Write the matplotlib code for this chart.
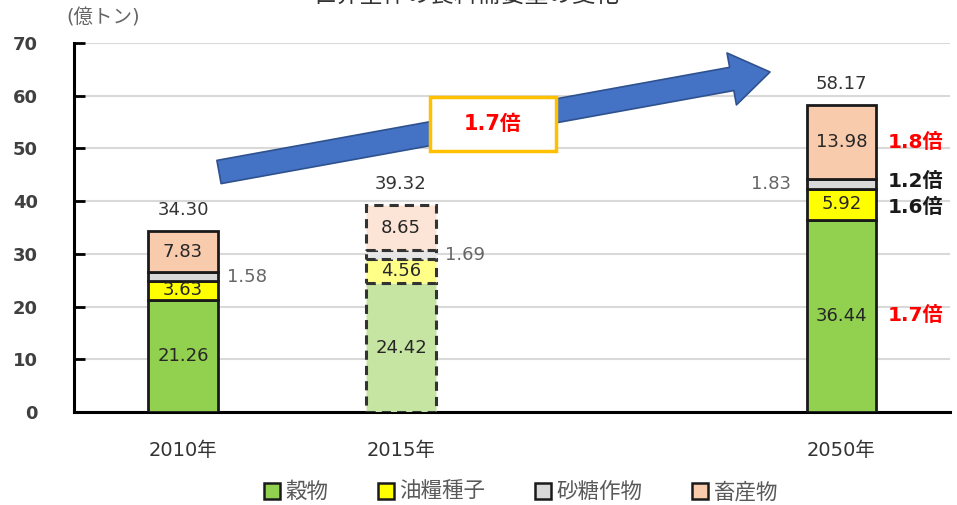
import matplotlib.pyplot as plt
import numpy as np
from matplotlib.patches import Patch, Rectangle, FancyArrowPatch

plt.rcParams['font.family'] = ['DejaVu Sans', 'Noto Sans CJK JP']

years = ['2010年', '2015年', '2050年']
grain = [21.26, 24.42, 36.44]
oilseed = [3.63, 4.56, 5.92]
sugar = [1.58, 1.69, 1.83]
livestock = [7.83, 8.65, 13.98]
totals = [34.30, 39.32, 58.17]

names = ['穀物', '油糧種子', '砂糖作物', '畜産物']
colors = ['#92D050', '#FFFF00', '#D9D9D9', '#F8CBAD']
colors_2015 = ['#C6E5A3', '#FFFF88', '#E6E6E6', '#FCE4D6']

xpos = np.array([0, 1, 3.02])
width = 0.32

fig = plt.figure(figsize=(9.57, 5.05), dpi=100)
ax = fig.add_axes([0.0773, 0.1842, 0.9154, 0.7307])

series = [grain, oilseed, sugar, livestock]
bottom = np.zeros(3)
for k, vals in enumerate(series):
    for i in range(3):
        if i == 1:
            ax.bar(xpos[i], vals[i], width, bottom=bottom[i], color=colors_2015[k],
                   edgecolor='#333333', linewidth=2.2, linestyle=(0, (3, 2)), zorder=3)
        else:
            ax.bar(xpos[i], vals[i], width, bottom=bottom[i], color=colors[k],
                   edgecolor='#1a1a1a', linewidth=2, zorder=3)
    bottom += np.array(vals)

# values inside the segments (sugar is too thin, labelled outside)
bottom = np.zeros(3)
for k, vals in enumerate(series):
    for i in range(3):
        yc = bottom[i] + vals[i] / 2
        if k == 2:
            if i == 2:
                ax.text(xpos[i] - width / 2 - 0.07, yc, f'{vals[i]:.2f}', ha='right',
                        va='center', fontsize=13, color='#666666', zorder=4)
            else:
                ax.text(xpos[i] + width / 2 + 0.04, yc, f'{vals[i]:.2f}', ha='left',
                        va='center', fontsize=13, color='#666666', zorder=4)
        else:
            ax.text(xpos[i], yc, f'{vals[i]:.2f}', ha='center', va='center',
                    fontsize=13, color='#262626', zorder=4)
    bottom += np.array(vals)

for i in range(3):
    ax.text(xpos[i], totals[i] + 4, f'{totals[i]:.2f}', ha='center', va='center',
            fontsize=13, color='#333333')

# growth ratios 2050 / 2010
ratio_y = [grain[2] / 2, grain[2] + oilseed[2] / 2 - 0.6,
           grain[2] + oilseed[2] + sugar[2] / 2 + 0.4,
           grain[2] + oilseed[2] + sugar[2] + livestock[2] / 2]
ratio_col = ['#FF0000', '#1a1a1a', '#1a1a1a', '#FF0000']
for k, vals in enumerate(series):
    r = vals[2] / vals[0]
    ax.text(xpos[2] + width / 2 + 0.05, ratio_y[k], f'{r:.1f}倍', ha='left', va='center',
            fontsize=14.5, fontweight='bold', color=ratio_col[k])

ax.set_xlim(-0.5, 3.518)
ax.set_ylim(0, 70)
ax.set_yticks(range(0, 71, 10))
ax.set_xticks(xpos)
ax.set_xticklabels(years, fontsize=14, color='#333333')
ax.tick_params(axis='x', length=0, pad=21)
ax.tick_params(axis='y', direction='in', length=8, width=2, pad=26,
               labelsize=13, labelcolor='#404040')
for lab in ax.get_yticklabels():
    lab.set_fontweight('bold')
ax.grid(axis='y', color='#D9D9D9', linewidth=1.5, zorder=0)
ax.set_axisbelow(True)
for s in ['top', 'right']:
    ax.spines[s].set_visible(False)
ax.spines['left'].set_linewidth(2.2)
ax.spines['bottom'].set_linewidth(2.2)

fig.text(66 / 957, 1 - 18 / 505, '(億トン)', fontsize=14, color='#666666', va='center')
fig.text(466 / 957, 1 + 5 / 505, '世界全体の食料需要量の変化', fontsize=17,
         color='#333333', ha='center', va='center')

# overall growth arrow and its label box
arrow = FancyArrowPatch((2.19, 3.33), (7.70, 4.33), transform=fig.dpi_scale_trans,
                        arrowstyle='simple,head_width=38,head_length=28,tail_width=17',
                        mutation_scale=1, shrinkA=0, shrinkB=0,
                        facecolor='#4472C4', edgecolor='#2F528F', linewidth=1.2)
fig.add_artist(arrow)
fig.add_artist(Rectangle((430 / 957, 1 - 151 / 505), 126 / 957, 54 / 505,
                         transform=fig.transFigure, facecolor='white',
                         edgecolor='#FFC000', linewidth=2.5))
fig.text(493 / 957, 1 - 124 / 505, f'{totals[2] / totals[0]:.1f}倍', fontsize=15,
         fontweight='bold', color='#FF0000', ha='center', va='center')

handles = [Patch(facecolor=c, edgecolor='#1a1a1a', linewidth=1.8) for c in colors]
fig.legend(handles, names, loc='center', bbox_to_anchor=(521 / 957, 1 - 492 / 505),
           ncol=4, frameon=False, fontsize=15.5, handlelength=0.75, handleheight=0.75,
           handletextpad=0.25, columnspacing=2.3, labelcolor='#595959')

fig.savefig('out.png', dpi=100)
